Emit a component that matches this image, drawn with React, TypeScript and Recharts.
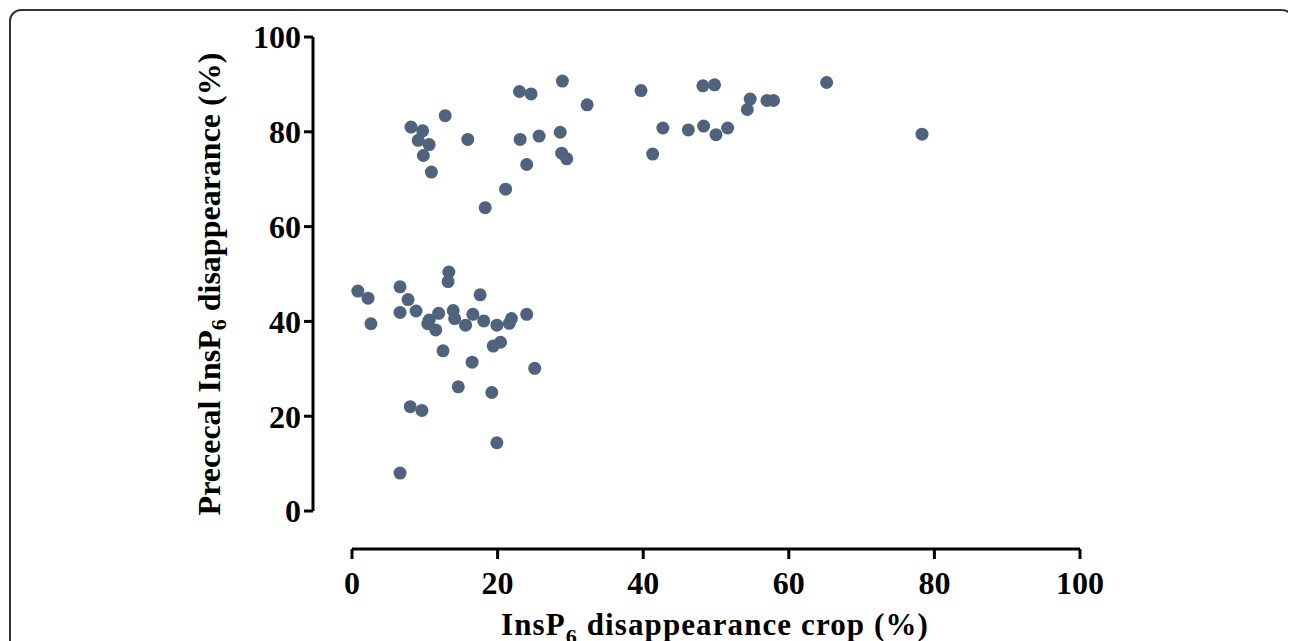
import { ScatterChart, Scatter, XAxis, YAxis, ZAxis, ReferenceLine } from "recharts"

// InsP6 disappearance in crop (%)
const cropX = [
  8.1, 9.7, 9.1, 10.6, 9.8, 10.9, 12.8, 15.9, 18.3, 21.1, 23.0, 24.6, 23.1, 25.7, 24.0, 28.9, 28.6, 28.8,
  29.5, 32.3, 39.7, 42.7, 41.3, 46.2, 48.3, 48.2, 49.8, 50.0, 51.6, 54.3, 54.7, 57.0, 57.9, 65.2, 78.3,
  0.8, 2.2, 2.6, 6.6, 7.7, 6.6, 8.8, 10.6, 10.4, 11.5, 11.9, 13.3, 13.2, 13.9, 14.1, 17.6, 16.6, 18.1,
  15.6, 19.9, 20.4, 19.4, 21.9, 21.6, 24.0, 12.5, 16.5, 25.1, 14.6, 19.2, 8.0, 9.6, 19.9, 6.6,
]

// Prececal InsP6 disappearance (%)
const prececalY = [
  81.0, 80.2, 78.2, 77.3, 75.0, 71.5, 83.4, 78.4, 64.0, 67.9, 88.5, 88.0, 78.4, 79.1, 73.1, 90.7, 79.9, 75.5,
  74.3, 85.7, 88.7, 80.8, 75.3, 80.4, 81.2, 89.7, 89.9, 79.4, 80.8, 84.7, 86.9, 86.6, 86.6, 90.4, 79.5,
  46.4, 44.9, 39.5, 47.3, 44.6, 41.9, 42.2, 40.3, 39.5, 38.2, 41.7, 50.4, 48.4, 42.3, 40.6, 45.6, 41.5, 40.1,
  39.2, 39.2, 35.6, 34.8, 40.6, 39.6, 41.5, 33.8, 31.4, 30.1, 26.2, 25.0, 22.0, 21.2, 14.4, 8.0,
]

const xTicks = [0, 20, 40, 60, 80, 100]
const yTicks = [0, 20, 40, 60, 80, 100]

const points = cropX.map((x, i) => ({ x, y: prececalY[i] }))

const FONT = "'Liberation Serif', 'Times New Roman', serif"
const DOT = "#4f637d"

// gap between the data range and the offset axis lines (px)
const X_GAP = 39
const Y_GAP = 38
const PLOT_H = 474
const PLOT_W = 728

function Dot(props: any) {
  return <circle cx={props.cx} cy={props.cy} r={6.5} fill={DOT} />
}

function YTitle() {
  return (
    <text
      x={201}
      y={276}
      transform="rotate(-90 201 276)"
      textAnchor="middle"
      dominantBaseline="central"
      fontFamily={FONT}
      fontWeight="bold"
      fontSize={32}
      fill="#000"
    >
      Prececal InsP
      <tspan fontSize={22} dy={9}>6</tspan>
      <tspan dy={-9}> disappearance (%)</tspan>
    </text>
  )
}

function XTitle() {
  return (
    <text
      x={707}
      y={627}
      textAnchor="middle"
      fontFamily={FONT}
      fontWeight="bold"
      fontSize={31}
      letterSpacing={1.1}
      fill="#000"
    >
      InsP
      <tspan fontSize={22} dy={9}>6</tspan>
      <tspan dy={-9}> disappearance crop (%)</tspan>
    </text>
  )
}

export default function App() {
  const yLine = -(Y_GAP * 100) / PLOT_H
  const xLine = -(X_GAP * 100) / PLOT_W
  return (
    <div style={{ position: "relative", width: 1286, height: 633, overflow: "hidden" }}>
      <div
        style={{
          position: "absolute",
          left: 1,
          top: 1,
          width: 1281,
          height: 700,
          border: "2px solid #333",
          borderRadius: 12,
        }}
      />
      <div style={{ position: "absolute", left: 0, top: 0 }}>
        <ScatterChart width={1286} height={633} margin={{ top: 29, right: 214, bottom: 0, left: 0 }}>
          <XAxis
            type="number"
            dataKey="x"
            domain={[0, 100]}
            ticks={xTicks}
            height={92}
            padding={{ left: X_GAP, right: 0 }}
            axisLine={false}
            tickLine={{ stroke: "#000", strokeWidth: 3 }}
            tickSize={10}
            tickMargin={12}
            tick={{ fill: "#000", fontFamily: FONT, fontWeight: "bold", fontSize: 32 }}
            label={<XTitle />}
          />
          <YAxis
            type="number"
            dataKey="y"
            domain={[0, 100]}
            ticks={yTicks}
            width={305}
            padding={{ top: 0, bottom: Y_GAP }}
            axisLine={false}
            tickLine={{ stroke: "#000", strokeWidth: 3 }}
            tickSize={9}
            tickMargin={3}
            tick={{ fill: "#000", fontFamily: FONT, fontWeight: "bold", fontSize: 32 }}
            label={<YTitle />}
          />
          <ZAxis range={[133, 133]} />
          <ReferenceLine
            segment={[{ x: 0, y: yLine }, { x: 100, y: yLine }]}
            stroke="#000"
            strokeWidth={3}
            ifOverflow="visible"
          />
          <ReferenceLine
            segment={[{ x: xLine, y: 0 }, { x: xLine, y: 100 }]}
            stroke="#000"
            strokeWidth={3}
            ifOverflow="visible"
          />
          <Scatter data={points} shape={Dot} isAnimationActive={false} />
        </ScatterChart>
      </div>
    </div>
  )
}
